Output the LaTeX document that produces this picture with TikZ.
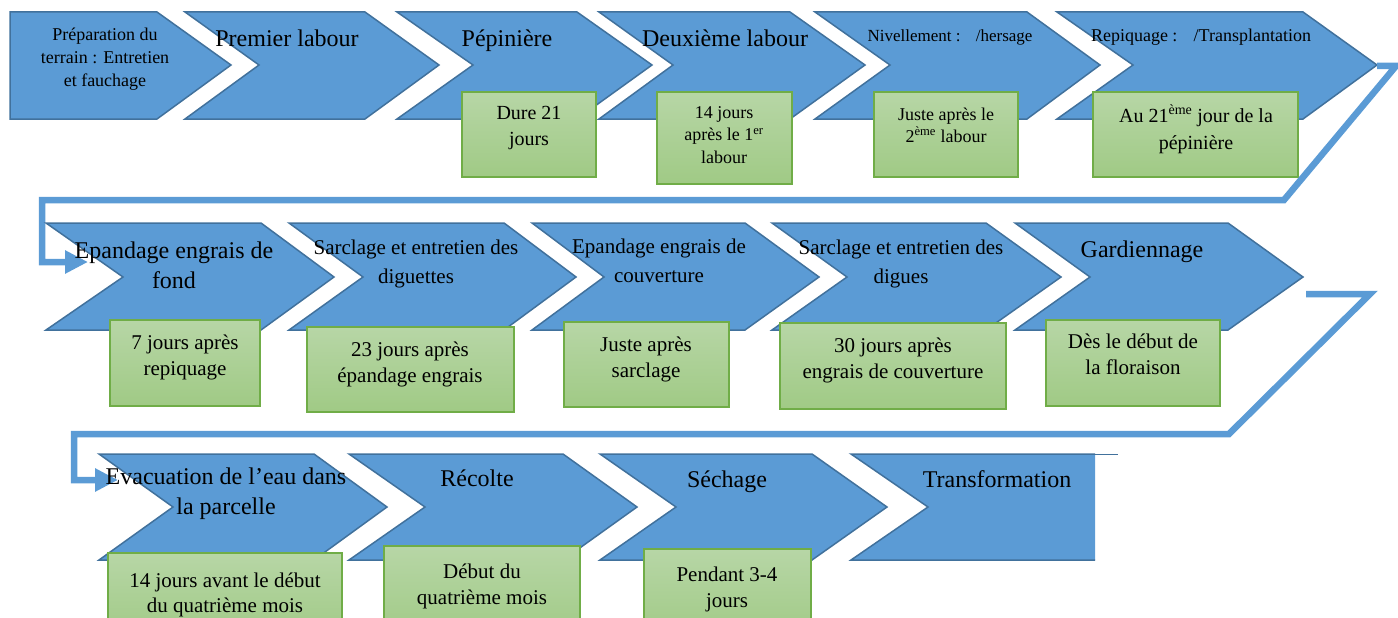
\documentclass[tikz,border=0pt]{standalone}
\usepackage{fontspec}
\setmainfont{Liberation Serif}
\usetikzlibrary{arrows.meta}
\definecolor{chevblue}{RGB}{91,155,213}
\definecolor{chevline}{RGB}{65,113,156}
\definecolor{notetop}{RGB}{183,214,166}
\definecolor{notebot}{RGB}{160,202,133}
\definecolor{noteline}{RGB}{112,173,71}

\begin{document}
\begin{tikzpicture}[x=1pt,y=-1pt,
  chev/.style={fill=chevblue,draw=chevline,line width=1.5pt,line join=miter},
  note/.style={top color=notetop,bottom color=notebot,draw=noteline,line width=1.2pt},
  conn/.style={draw=chevblue,line width=6.5pt,line join=miter,-{Triangle[length=23pt,width=22pt]}},
  bigtxt/.style={font=\fontsize{24}{30}\selectfont,align=center,inner sep=0pt},
  midtxt/.style={font=\fontsize{21}{29}\selectfont,align=center,inner sep=0pt},
  smalltxt/.style={font=\fontsize{18}{23}\selectfont,align=center,inner sep=0pt},
  notetxt/.style={font=\fontsize{21}{26}\selectfont,align=center,inner sep=0pt}]

\clip (0,0) rectangle (1398,618);

% first row
\draw [chev] (10,12) -- (157,12) -- (231,65) -- (157,119) -- (10,119) -- cycle;
\draw [chev] (185,12) -- (365,12) -- (439,65) -- (365,119) -- (185,119) -- (259,65) -- cycle;
\draw [chev] (397,12) -- (577,12) -- (652,65) -- (577,119) -- (397,119) -- (473,65) -- cycle;
\draw [chev] (599,12) -- (790,12) -- (865,65) -- (790,119) -- (599,119) -- (673,65) -- cycle;
\draw [chev] (815,12) -- (1027,12) -- (1100,65) -- (1027,119) -- (815,119) -- (890,65) -- cycle;
\draw [chev] (1057,12) -- (1303,12) -- (1377,65) -- (1303,119) -- (1057,119) -- (1133,65) -- cycle;

\node [smalltxt] (prep) at (105,59) {Préparation du\\ terrain : Entretien\\ et fauchage};
\node [bigtxt,anchor=base] (labour1) at (287,47) {Premier labour};
\node [bigtxt,anchor=base] (pepi) at (507,47) {Pépinière};
\node [bigtxt,anchor=base] (labour2) at (725,47) {Deuxième labour};
\node [smalltxt,font=\fontsize{17}{22}\selectfont,anchor=base] (nivel) at (950,42) {Nivellement :\hspace{0.9em}/hersage};
\node [smalltxt,anchor=base] (repiq) at (1201,42) {Repiquage :\hspace{0.9em}/Transplantation};

\draw [note] (462,92) rectangle (596,177);
\node [notetxt,font=\fontsize{20}{26}\selectfont] (dpepi) at (529,128) {Dure 21\\ jours};
\draw [note] (657,92) rectangle (792,184);
\node [notetxt,font=\fontsize{18}{22.5}\selectfont] (dlabour2) at (724,135) {14 jours\\ après le 1\textsuperscript{er}\\ labour};
\draw [note] (874,92) rectangle (1018,177);
\node [notetxt,font=\fontsize{18}{22}\selectfont] (dnivel) at (946,125) {Juste après le\\ 2\textsuperscript{ème} labour};
\draw [note] (1093,92) rectangle (1298,177);
\node [notetxt,font=\fontsize{20}{27}\selectfont] (drepiq) at (1196,129) {Au 21\textsuperscript{ème} jour de la\\ pépinière};

\coordinate (repiq-tip) at (1377,66);
\coordinate (fond-in) at (88,262);
\draw [conn] (repiq-tip) -- (1396,66) -- (1284,200) -- (42,200) |- (fond-in);

% second row
\draw [chev] (46,223) -- (261,223) -- (334,277) -- (261,330) -- (46,330) -- (123,277) -- cycle;
\draw [chev] (289,223) -- (504,223) -- (576,277) -- (504,330) -- (289,330) -- (363,277) -- cycle;
\draw [chev] (532,223) -- (745,223) -- (819,277) -- (745,330) -- (532,330) -- (604,277) -- cycle;
\draw [chev] (772,223) -- (986,223) -- (1061,277) -- (986,330) -- (772,330) -- (847,277) -- cycle;
\draw [chev] (1015,223) -- (1228,223) -- (1303,277) -- (1228,330) -- (1015,330) -- (1090,277) -- cycle;

\node [bigtxt] (fond) at (174,265) {Epandage engrais de\\ fond};
\node [midtxt] (digu) at (416,263.5) {Sarclage et entretien des\\ diguettes};
\node [midtxt] (couv) at (659,261) {Epandage engrais de\\ couverture};
\node [midtxt] (digues) at (901,263.5) {Sarclage et entretien des\\ digues};
\node [bigtxt,anchor=base] (gard) at (1142,257) {Gardiennage};

\draw [note] (110,320) rectangle (260,406);
\node [notetxt] (dfond) at (185,357) {7 jours après\\ repiquage};
\draw [note] (307,327) rectangle (514,412);
\node [notetxt] (ddigu) at (410,364) {23 jours après\\ épandage engrais};
\draw [note] (564,322) rectangle (729,407);
\node [notetxt] (dcouv) at (646,359) {Juste après\\ sarclage};
\draw [note] (780,323) rectangle (1006,409);
\node [notetxt] (ddigues) at (893,360) {30 jours après\\ engrais de couverture};
\draw [note] (1046,320) rectangle (1220,406);
\node [notetxt] (dgard) at (1133,354) {Dès le début de\\ la floraison};

\coordinate (gard-out) at (1306,294);
\coordinate (evac-in) at (118,480);
\draw [conn] (gard-out) -- (1370,294) -- (1229,434) -- (74,434) |- (evac-in);

% third row
\draw [chev] (99,454) -- (314,454) -- (387,507) -- (314,560) -- (99,560) -- (173,507) -- cycle;
\draw [chev] (349,454) -- (563,454) -- (637,507) -- (563,560) -- (349,560) -- (425,507) -- cycle;
\draw [chev] (600,454) -- (812,454) -- (887,507) -- (812,560) -- (600,560) -- (676,507) -- cycle;
\fill [chevblue] (851,454) -- (1095,454) -- (1095,560) -- (851,560) -- (928,507) -- cycle;
\draw [chevline,line width=1.5pt] (1095,454) -- (851,454) -- (928,507) -- (851,560) -- (1095,560);
\draw [chevline,line width=0.8pt] (1095,454) -- (1118,454);

\node [bigtxt] (evac) at (226,494) {Evacuation de l’eau dans\\ la parcelle};
\node [bigtxt,anchor=base] (recol) at (477,486) {Récolte};
\node [bigtxt,anchor=base] (sech) at (727,487) {Séchage};
\node [bigtxt,anchor=base] (transf) at (997,487) {Transformation};

\draw [note] (108,553) rectangle (342,640);
\node [notetxt,font=\fontsize{21}{25}\selectfont] (devac) at (225,595) {14 jours avant le début\\ du quatrième mois};
\draw [note] (384,546) rectangle (580,640);
\node [notetxt] (drecol) at (482,586) {Début du\\ quatrième mois};
\draw [note] (644,549) rectangle (811,640);
\node [notetxt] (dsech) at (727,589) {Pendant 3-4\\ jours};
\end{tikzpicture}
\end{document}
